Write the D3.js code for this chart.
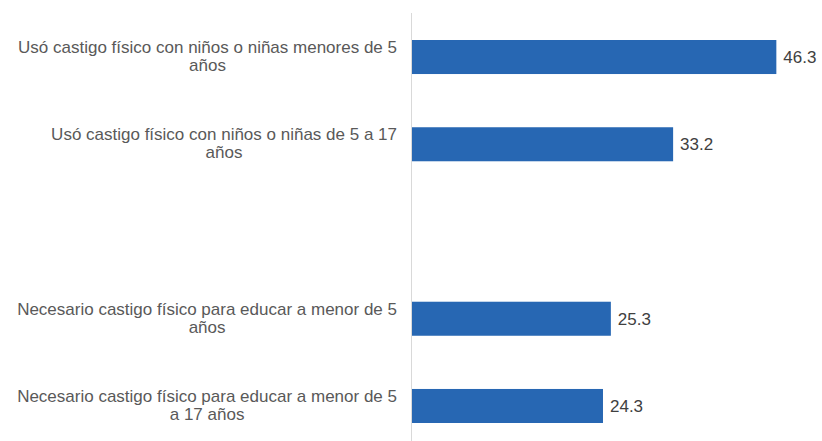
<!DOCTYPE html>
<html>
<head>
<meta charset="utf-8">
<script src="https://cdn.jsdelivr.net/npm/d3@7"></script>
<style>
body{margin:0;background:#fff;}
svg{display:block;}
</style>
</head>
<body>
<div id="chart"></div>
<script>
'use strict'

// categories (one blank slot separates the two groups)
var categories = [
	"Usó castigo físico con niños o niñas menores de 5|años",
	"Usó castigo físico con niños o niñas de 5 a 17|años",
	"",
	"Necesario castigo físico para educar a menor de 5|años",
	"Necesario castigo físico para educar a menor de 5|a 17 años"
]
var values = [46.3, 33.2, null, 25.3, 24.3]

var width = 822
var height = 441
var axisX = 411.5
var labelRight = 397

var svg = d3.select("#chart")
	.append("svg")
	.attr("width", width)
	.attr("height", height)

var data = categories.map(function(c, i){
	return {id: i, label: c, value: values[i]}
})

var y = d3.scaleBand()
	.domain(data.map(function(d){ return d.id }))
	.range([13.4, 449.6])
	.paddingInner(0.61)
	.paddingOuter(0.305)

var x = d3.scaleLinear()
	.domain([0, 50])
	.range([axisX, axisX + 394])

// bars
svg.selectAll(".bar")
	.data(data.filter(function(d){ return d.value != null }))
	.enter().append("rect")
	.attr("class", "bar")
	.attr("x", x(0))
	.attr("y", function(d){ return y(d.id) })
	.attr("width", function(d){ return x(d.value) - x(0) })
	.attr("height", y.bandwidth())
	.style("fill", "#2767b3")

// axis line
svg.append("line")
	.attr("x1", axisX).attr("x2", axisX)
	.attr("y1", 13).attr("y2", height)
	.attr("stroke", "#d9d9d9")
	.attr("stroke-width", 1)

// value labels
svg.selectAll(".val")
	.data(data.filter(function(d){ return d.value != null }))
	.enter().append("text")
	.attr("class", "val")
	.attr("x", function(d){ return x(d.value) + 7 })
	.attr("y", function(d){ return y(d.id) + y.bandwidth() / 2 })
	.attr("dy", "0.35em")
	.style("font-family", "'Liberation Sans', Arial, sans-serif")
	.style("font-size", "17px")
	.style("fill", "#404040")
	.text(function(d){ return d.value.toFixed(1) })

// category labels: block right aligned, lines centred inside the block
data.forEach(function(d){
	if(d.label == "") return
	var lines = d.label.split("|")
	var g = svg.append("g")
	var cy = y(d.id) + y.bandwidth() / 2
	var lh = 18
	var texts = lines.map(function(l, i){
		return g.append("text")
			.attr("y", cy + (i - (lines.length - 1) / 2) * lh)
			.attr("dy", "0.3em")
			.attr("text-anchor", "middle")
			.style("font-family", "'Liberation Sans', Arial, sans-serif")
			.style("font-size", "17px")
			.style("fill", "#595959")
			.text(l)
	})
	var maxW = d3.max(texts, function(t){ return t.node().getComputedTextLength() })
	texts.forEach(function(t){
		t.attr("x", labelRight - maxW / 2)
	})
})
</script>
</body>
</html>
